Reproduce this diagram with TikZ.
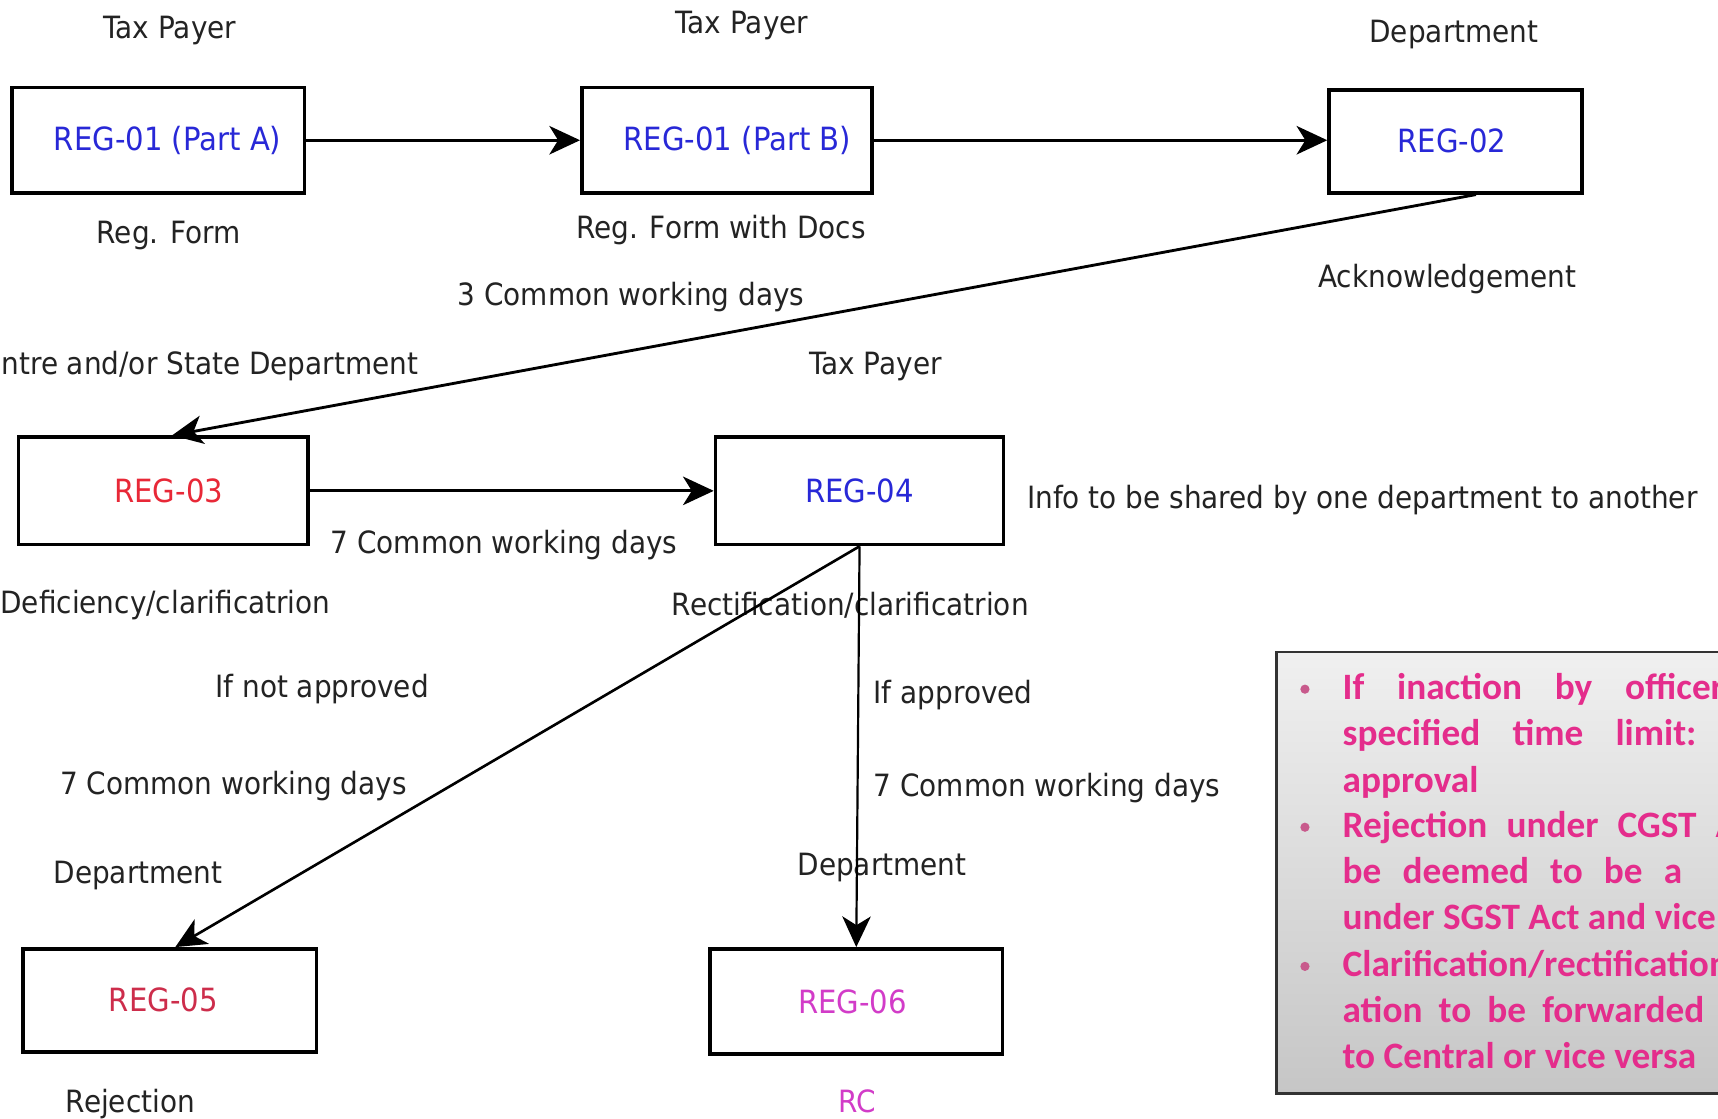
\documentclass[tikz,border=0pt]{standalone}
\usepackage{fontspec}
\setmainfont{DejaVu Sans}[FakeStretch=0.91]
\newfontfamily\boxfont{Carlito}
\usetikzlibrary{arrows.meta,calc}
\definecolor{regblue}{RGB}{40,40,215}
\definecolor{regred}{RGB}{232,40,55}
\definecolor{regcrim}{RGB}{205,45,75}
\definecolor{regmag}{RGB}{210,60,200}
\definecolor{notepink}{RGB}{228,45,140}
\definecolor{bulletpink}{RGB}{200,90,140}
\definecolor{txt}{RGB}{35,35,35}
\definecolor{gtop}{RGB}{240,240,240}
\definecolor{gbot}{RGB}{198,198,198}
\begin{document}
\begin{tikzpicture}[x=0.5pt,y=-0.5pt,
  font=\fontsize{14}{17}\selectfont,
  regbox/.style={draw=black, line width=1.6pt, inner sep=0pt, font=\fontsize{14.6}{17}\selectfont},
  lbl/.style={text=txt, inner sep=0pt, text height=12pt, text depth=1pt},
  flow/.style={line width=1.4pt, -{Stealth[length=14pt,width=13pt,inset=4pt]}},
  notes/.style={text=notepink, inner sep=0pt, anchor=base west, font=\boxfont\bfseries\fontsize{17}{21}\selectfont},
]
\clip (0,0) rectangle (1568,1021);
\fill[white] (0,0) rectangle (1568,1021);

% boxes
\node[regbox, minimum width=133.5pt, minimum height=48pt, text=regblue] (A) at (144.5,128) {\hspace*{8.5pt}REG-01 (Part A)};
\node[regbox, minimum width=132.5pt, minimum height=48pt, text=regblue] (B) at (663.5,128) {\hspace*{9.5pt}REG-01 (Part B)};
\node[regbox, minimum width=115.5pt, minimum height=47pt, text=regblue] (R02) at (1328.5,129) {REG-02\hspace*{3.5pt}};
\node[regbox, minimum width=132pt, minimum height=49pt, text=regred] (R03) at (149,448) {\hspace*{5pt}REG-03};
\node[regbox, minimum width=131.5pt, minimum height=49pt, text=regblue] (R04) at (784.5,448) {REG-04};
\node[regbox, minimum width=134pt, minimum height=47pt, text=regcrim] (R05) at (155,913) {REG-05\hspace*{6pt}};
\node[regbox, minimum width=133.5pt, minimum height=48pt, text=regmag] (R06) at (781.5,914) {REG-06\hspace*{3.5pt}};

% labels
\node[lbl] (tp1) at (155,24) {Tax Payer};
\node[lbl] (tp2) at (677,20) {Tax Payer};
\node[lbl] (dep1) at (1327,28) {Department};
\node[lbl] (rf) at (154,211) {Reg. Form};
\node[lbl] (rfd) at (658,207) {Reg. Form with Docs};
\node[lbl] (ack) at (1321,251) {Acknowledgement};
\node[lbl] (cwd3) at (576,268) {3 Common working days};
\node[lbl, anchor=east] (csd) at (382,331) {Centre and/or State Department};
\node[lbl] (tp3) at (799,331) {Tax Payer};
\node[lbl, anchor=west] (info) at (937,453) {Info to be shared by one department to another};
\node[lbl] (cwd7a) at (460,494) {7 Common working days};
\node[lbl, anchor=west] (defc) at (0,549) {Deficiency/clarificatrion};
\node[lbl] (rect) at (776,551) {Rectification/clarificatrion};
\node[lbl] (ina) at (294,626) {If not approved};
\node[lbl, anchor=west] (ia) at (797,631) {If approved};
\node[lbl] (cwd7b) at (213,714) {7 Common working days};
\node[lbl, anchor=west] (cwd7c) at (797,716) {7 Common working days};
\node[lbl] (dep2) at (126,795) {Department};
\node[lbl] (dep3) at (805,788) {Department};
\node[lbl] (rej) at (119,1004) {Rejection};
\node[lbl, text=regmag] (rc) at (782,1004) {RC};

% connectors
\draw[flow] (A.east) -- (A.east -| B.west);
\draw[flow] (B.east) -- (B.east -| R02.west);
\draw[flow, line width=1.3pt] ($(R02.south)+(18.5,0)$) -- ($(R03.north)+(8,0)$);
\draw[flow] (R03.east) -- (R03.east -| R04.west);
\draw[flow, line width=1.2pt] (R04.south) -- ($(R05.north)+(5,0)$);
\draw[flow, line width=1pt] (R04.south) -- (R06.north);

% note box
\draw[line width=1.2pt, draw=black!80, top color=gtop, bottom color=gbot] (1165,595) rectangle (1640,998);
\fill[bulletpink] (1191,629) circle (2.1pt);
\fill[bulletpink] (1191,755) circle (2.1pt);
\fill[bulletpink] (1191,882) circle (2.1pt);
\node[notes] (n1) at (1225,638) {\makebox[174pt][s]{If inaction by officer}};
\node[notes] (n2) at (1225,680) {\makebox[161.5pt][s]{specified time limit:}};
\node[notes] (n3) at (1225,723) {approval};
\node[notes] (n4) at (1225,764) {\makebox[193.5pt][s]{Rejection under CGST Act}};
\node[notes] (n5) at (1225,806) {\makebox[155pt][s]{be deemed to be a}};
\node[notes] (n6) at (1225,848) {under SGST Act and vice};
\node[notes] (n7) at (1225,891) {Clarification/rectification};
\node[notes] (n8) at (1225,933) {\makebox[165pt][s]{ation to be forwarded}};
\node[notes] (n9) at (1225,975) {to Central or vice versa};
\end{tikzpicture}
\end{document}
